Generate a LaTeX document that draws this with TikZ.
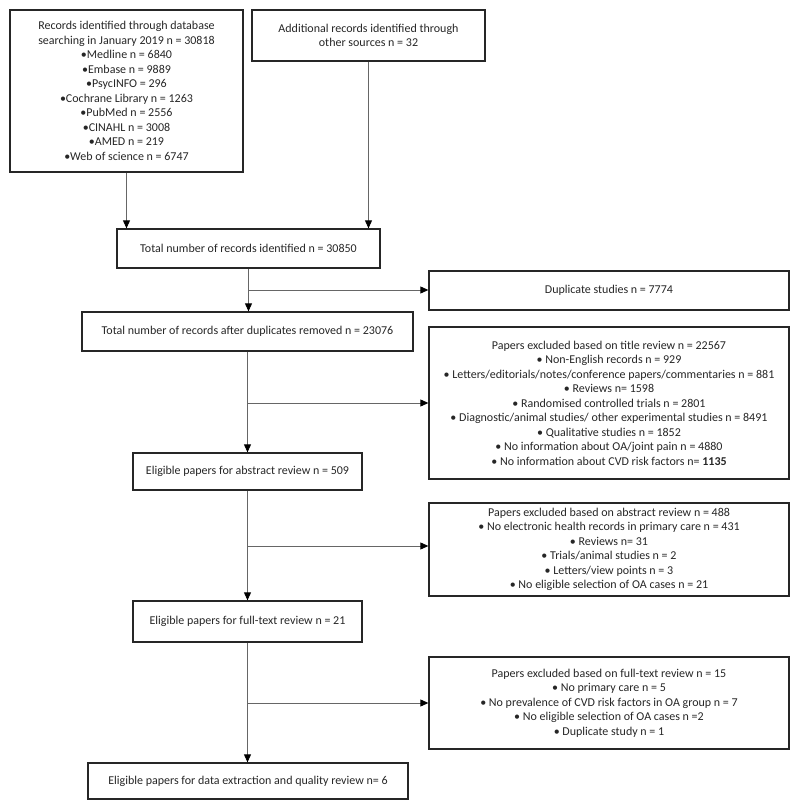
\documentclass[tikz,border=0pt]{standalone}
\usepackage{fontspec}
\setmainfont{Carlito}
\usetikzlibrary{arrows.meta}
\tikzset{
  box/.style={draw=black!85, line width=1.3pt, align=center, inner sep=0pt,
    font=\fontsize{12}{14.5}\selectfont, text=black!85},
  link/.style={draw=black!60, line width=0.9pt},
  arr/.style={link, -{Triangle[length=8pt,width=7pt,fill=black,color=black]}}
}
\begin{document}
\begin{tikzpicture}[x=1pt,y=-1pt]
\useasboundingbox (0,0) rectangle (800,810);
\node[box, minimum width=233pt, minimum height=162pt] (db) at (126.5,91)
 {Records identified through database\\searching in January 2019 n = 30818\\•Medline n = 6840\\•Embase n = 9889\\•PsycINFO = 296\\•Cochrane Library n = 1263\\•PubMed n = 2556\\•CINAHL n = 3008\\•AMED n = 219\\•Web of science n = 6747};
\node[box, minimum width=233pt, minimum height=51pt] (add) at (368.5,35.5)
 {Additional records identified through\\other sources n = 32};
\node[box, minimum width=263pt, minimum height=39pt] (total) at (248.5,248.5)
 {Total number of records identified n = 30850};
\node[box, minimum width=331pt, minimum height=39pt] (dedup) at (247.5,331.5)
 {Total number of records after duplicates removed n = 23076};
\node[box, minimum width=360pt, minimum height=39pt] (dup) at (609,290.5)
 {Duplicate studies n = 7774};
\node[box, minimum width=360pt, minimum height=152pt] (title) at (609,403)
 {Papers excluded based on title review n = 22567\\• Non-English records n = 929\\• Letters/editorials/notes/conference papers/commentaries n = 881\\• Reviews n= 1598\\• Randomised controlled trials n = 2801\\• Diagnostic/animal studies/ other experimental studies n = 8491\\• Qualitative studies n = 1852\\• No information about OA/joint pain n = 4880\\• No information about CVD risk factors n= \textbf{1135}};
\node[box, minimum width=229pt, minimum height=37pt] (abs) at (247.5,471.5)
 {Eligible papers for abstract review n = 509};
\node[box, minimum width=360pt, minimum height=93pt] (absx) at (609,549.5)
 {Papers excluded based on abstract review n = 488\\• No electronic health records in primary care n = 431\\• Reviews n= 31\\• Trials/animal studies n = 2\\• Letters/view points n = 3\\• No eligible selection of OA cases n = 21};
\node[box, minimum width=229pt, minimum height=41pt] (full) at (247.5,621.5)
 {Eligible papers for full-text review n = 21};
\node[box, minimum width=360pt, minimum height=92pt] (fullx) at (609,703)
 {Papers excluded based on full-text review n = 15\\• No primary care n = 5\\• No prevalence of CVD risk factors in OA group n = 7\\• No eligible selection of OA cases n =2\\• Duplicate study n = 1};
\node[box, minimum width=320pt, minimum height=36pt] (final) at (248,781)
 {Eligible papers for data extraction and quality review n= 6};
% connectors
\draw[arr] (db.south) -- (db.south |- total.north);
\draw[arr] (add.south) -- (add.south |- total.north);
\draw[arr] (total.south) -- (total.south |- dedup.north);
\coordinate (b1) at (248.5,290);
\draw[arr] (b1) -- (b1 -| dup.west);
\draw[arr] (dedup.south) -- (dedup.south |- abs.north);
\coordinate (b2) at (247.5,403);
\draw[arr] (b2) -- (b2 -| title.west);
\draw[arr] (abs.south) -- (abs.south |- full.north);
\coordinate (b3) at (247.5,546);
\draw[arr] (b3) -- (b3 -| absx.west);
\draw[arr] (full.south) -- (full.south |- final.north);
\coordinate (b4) at (247.5,703);
\draw[arr] (b4) -- (b4 -| fullx.west);
\end{tikzpicture}
\end{document}
